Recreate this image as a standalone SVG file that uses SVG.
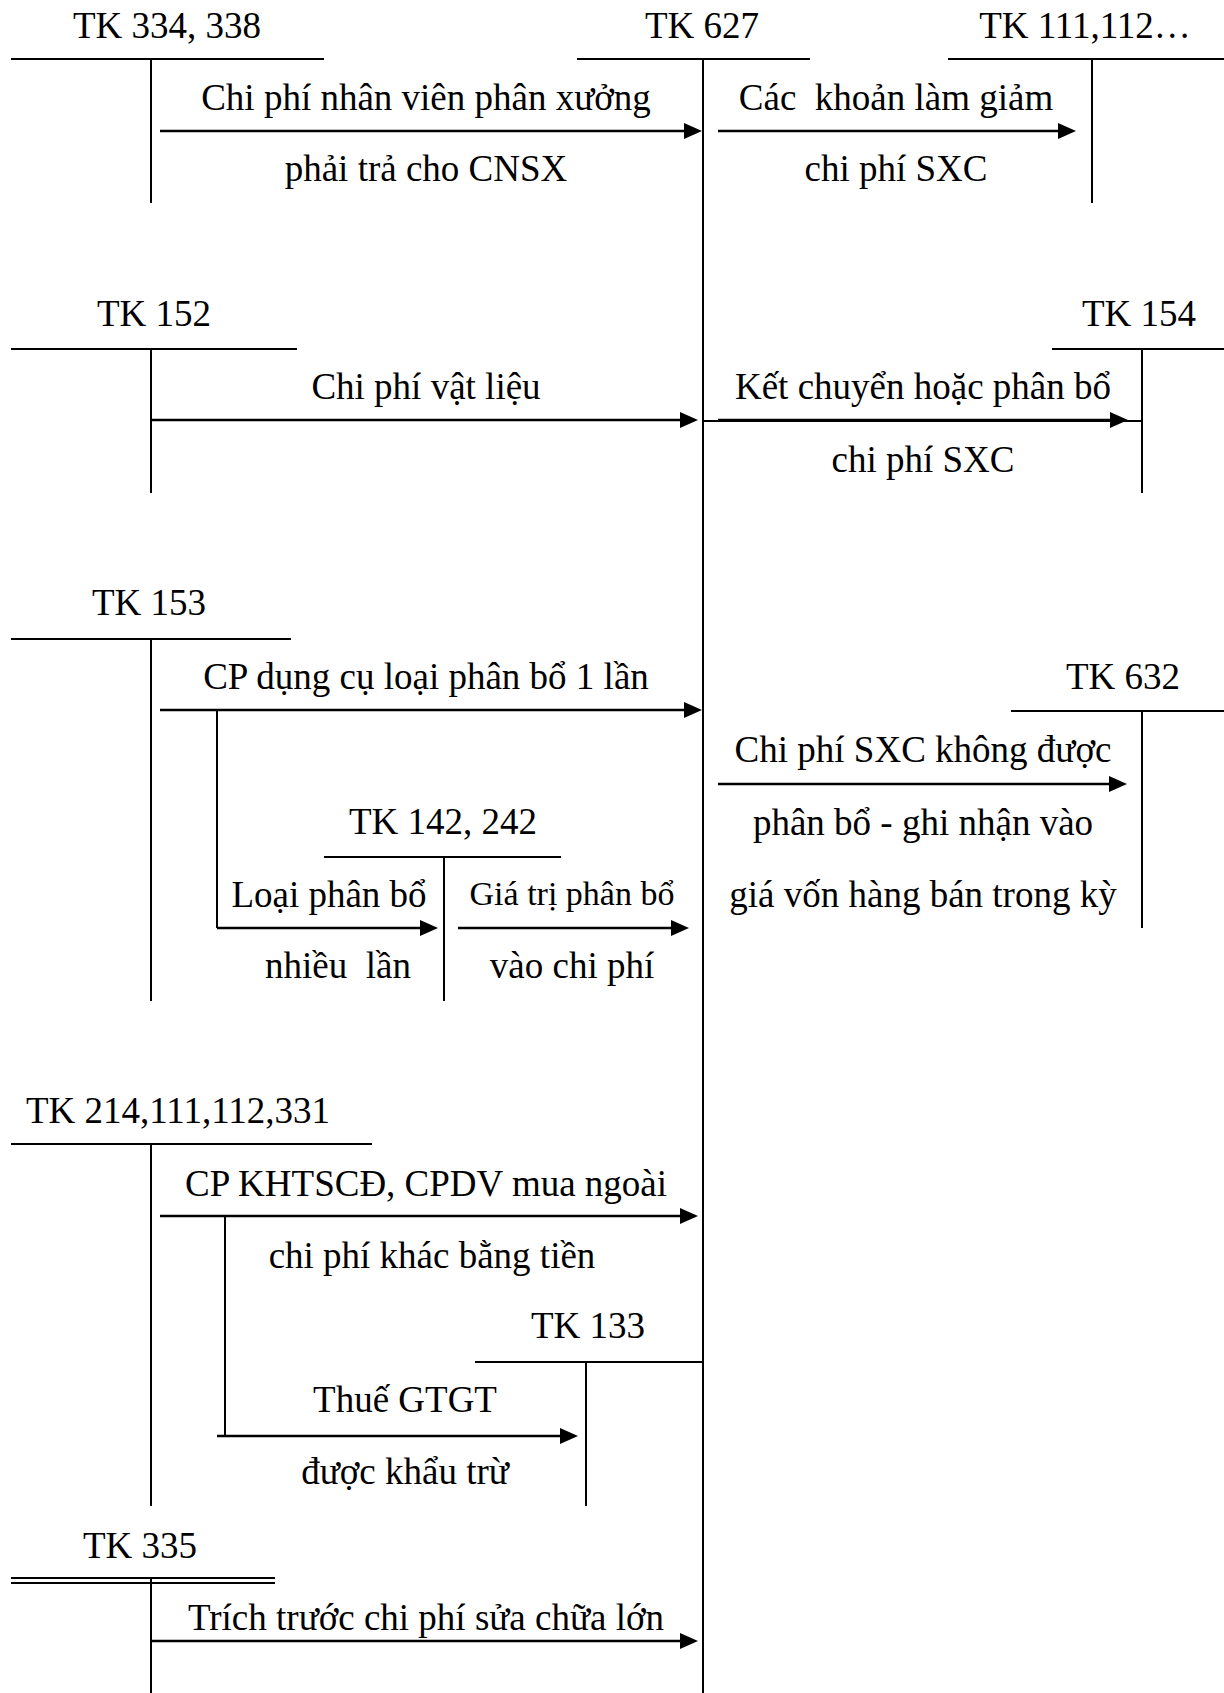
<svg xmlns="http://www.w3.org/2000/svg" xmlns:xlink="http://www.w3.org/1999/xlink" width="1224" height="1693" viewBox="0 0 1224 1693">
<style>
text{font-family:"Liberation Serif","Times New Roman",serif;font-size:37px;fill:#000;text-anchor:middle}
.sm{font-size:34px}
.ln{stroke:#000;stroke-width:2;fill:none}
.ar{stroke:#000;stroke-width:2.5;fill:none}
.hd{fill:#000;stroke:none}
</style>
<defs>
<path id="ah" class="hd" d="M-18,-8 L0,0 L-18,8 Z"/>
</defs>
<rect width="1224" height="1693" fill="#fff"/>

<g id="tk334">
<text x="167" y="38">TK 334, 338</text>
<line class="ln" x1="11" y1="59" x2="324" y2="59"/>
<line class="ln" x1="151" y1="59" x2="151" y2="203"/>
</g>
<g id="tk627">
<text x="702" y="38">TK 627</text>
<line class="ln" x1="577" y1="59" x2="810" y2="59"/>
<line class="ln" x1="703" y1="59" x2="703" y2="1693"/>
</g>
<g id="tk111">
<text x="1085" y="38">TK 111,112…</text>
<line class="ln" x1="948" y1="59" x2="1224" y2="59"/>
<line class="ln" x1="1092" y1="59" x2="1092" y2="203"/>
</g>
<g id="tk152">
<text x="154" y="326">TK 152</text>
<line class="ln" x1="11" y1="349" x2="297" y2="349"/>
<line class="ln" x1="151" y1="349" x2="151" y2="493"/>
</g>
<g id="tk154">
<text x="1139" y="326">TK 154</text>
<line class="ln" x1="1052" y1="349" x2="1224" y2="349"/>
<line class="ln" x1="1142" y1="349" x2="1142" y2="493"/>
</g>
<g id="tk153">
<text x="149" y="615">TK 153</text>
<line class="ln" x1="11" y1="639" x2="291" y2="639"/>
<line class="ln" x1="151" y1="639" x2="151" y2="1001"/>
</g>
<g id="tk142">
<text x="443" y="834">TK 142, 242</text>
<line class="ln" x1="324" y1="857" x2="561" y2="857"/>
<line class="ln" x1="444" y1="857" x2="444" y2="1001"/>
</g>
<g id="tk632">
<text x="1123" y="689">TK 632</text>
<line class="ln" x1="1011" y1="711" x2="1224" y2="711"/>
<line class="ln" x1="1142" y1="711" x2="1142" y2="928"/>
</g>
<g id="tk214">
<text x="178" y="1123">TK 214,111,112,331</text>
<line class="ln" x1="11" y1="1144" x2="372" y2="1144"/>
<line class="ln" x1="151" y1="1144" x2="151" y2="1506"/>
</g>
<g id="tk133">
<text x="588" y="1338">TK 133</text>
<line class="ln" x1="475" y1="1362" x2="703" y2="1362"/>
<line class="ln" x1="586" y1="1362" x2="586" y2="1506"/>
</g>
<g id="tk335">
<text x="140" y="1558">TK 335</text>
<line class="ln" x1="11" y1="1578" x2="275" y2="1578"/>
<line class="ln" x1="11" y1="1583" x2="275" y2="1583"/>
<line class="ln" x1="151" y1="1578" x2="151" y2="1693"/>
</g>

<g id="connectors">
<line class="ar" x1="160" y1="131" x2="690" y2="131"/><use xlink:href="#ah" x="702" y="131"/>
<line class="ar" x1="718" y1="131" x2="1064" y2="131"/><use xlink:href="#ah" x="1076" y="131"/>
<line class="ar" x1="151" y1="420" x2="686" y2="420"/><use xlink:href="#ah" x="698" y="420"/>
<line class="ln" x1="703" y1="421" x2="1142" y2="421"/>
<line class="ar" x1="718" y1="420" x2="1116" y2="420"/><use xlink:href="#ah" x="1128" y="420"/>
<line class="ar" x1="160" y1="710" x2="690" y2="710"/><use xlink:href="#ah" x="702" y="710"/>
<line class="ln" x1="217" y1="710" x2="217" y2="928"/>
<line class="ar" x1="217" y1="928" x2="426" y2="928"/><use xlink:href="#ah" x="438" y="928"/>
<line class="ar" x1="458" y1="928" x2="677" y2="928"/><use xlink:href="#ah" x="689" y="928"/>
<line class="ar" x1="718" y1="784" x2="1115" y2="784"/><use xlink:href="#ah" x="1127" y="784"/>
<line class="ar" x1="160" y1="1216" x2="686" y2="1216"/><use xlink:href="#ah" x="698" y="1216"/>
<line class="ln" x1="225" y1="1216" x2="225" y2="1436"/>
<line class="ar" x1="217" y1="1436" x2="566" y2="1436"/><use xlink:href="#ah" x="578" y="1436"/>
<line class="ar" x1="151" y1="1641" x2="686" y2="1641"/><use xlink:href="#ah" x="698" y="1641"/>
</g>

<g id="labels">
<text x="426" y="110">Chi phí nhân viên phân xưởng</text>
<text x="426" y="181">phải trả cho CNSX</text>
<text x="896" y="110" xml:space="preserve">Các  khoản làm giảm</text>
<text x="896" y="181">chi phí SXC</text>
<text x="426" y="399">Chi phí vật liệu</text>
<text x="923" y="399">Kết chuyển hoặc phân bổ</text>
<text x="923" y="472">chi phí SXC</text>
<text x="426" y="689">CP dụng cụ loại phân bổ 1 lần</text>
<text x="329" y="907">Loại phân bổ</text>
<text x="338" y="978" xml:space="preserve">nhiều  lần</text>
<text class="sm" x="572" y="905">Giá trị phân bổ</text>
<text x="572" y="978">vào chi phí</text>
<text x="923" y="762">Chi phí SXC không được</text>
<text x="923" y="835">phân bổ - ghi nhận vào</text>
<text x="923" y="907">giá vốn hàng bán trong kỳ</text>
<text x="426" y="1196">CP KHTSCĐ, CPDV mua ngoài</text>
<text x="432" y="1268">chi phí khác bằng tiền</text>
<text x="405" y="1412">Thuế GTGT</text>
<text x="405" y="1484">được khẩu trừ</text>
<text x="426" y="1630">Trích trước chi phí sửa chữa lớn</text>
</g>
</svg>
